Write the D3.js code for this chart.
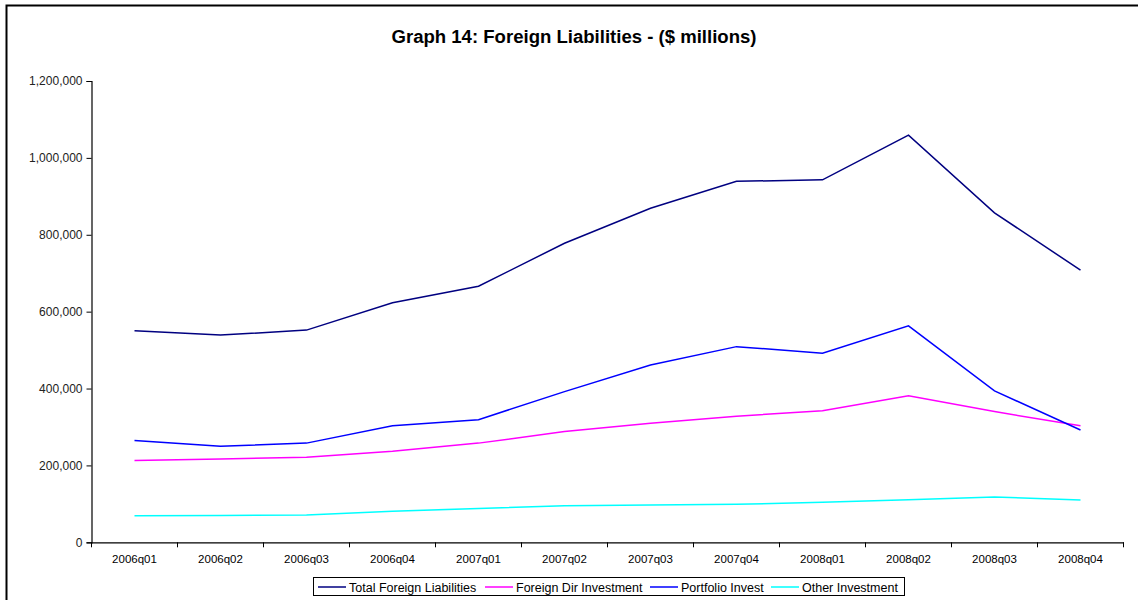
<!DOCTYPE html>
<html>
<head>
<meta charset="utf-8">
<script src="https://cdn.jsdelivr.net/npm/d3@7"></script>
<style>
  html, body { margin: 0; padding: 0; background: #fff; }
  svg { display: block; font-family: "Liberation Sans", Arial, sans-serif; }
</style>
</head>
<body>
<svg id="chart" width="1138" height="600"></svg>
<script>
// Quarterly foreign liabilities, $ millions
const quarters = ["2006q01","2006q02","2006q03","2006q04","2007q01","2007q02",
                  "2007q03","2007q04","2008q01","2008q02","2008q03","2008q04"];
const totalForeignLiabilities = [550000, 539000, 552000, 623000, 666000, 778000,
                                 869000, 939000, 943000, 1059000, 857000, 708000];
const foreignDirInvestment    = [213000, 217000, 221000, 237000, 258000, 288000,
                                 310000, 328000, 342000, 381000, 340000, 303000];
const portfolioInvest         = [265000, 250000, 258000, 303000, 319000, 392000,
                                 461000, 509000, 492000, 563000, 394000, 292000];
const otherInvestment         = [69000, 70000, 71000, 81000, 88000, 95000,
                                 97000, 99000, 104000, 111000, 118000, 110000];
const yTicks = [0, 200000, 400000, 600000, 800000, 1000000, 1200000];

const seriesNames  = ["Total Foreign Liabilities", "Foreign Dir Investment", "Portfolio Invest", "Other Investment"];
const seriesValues = [totalForeignLiabilities, foreignDirInvestment, portfolioInvest, otherInvestment];
const seriesColors = ["#000080", "#ff00ff", "#0000ff", "#00ffff"];

const svg = d3.select("#chart");

// outer chart frame
svg.append("rect")
  .attr("x", 6.5).attr("y", 5.5)
  .attr("width", 1200).attr("height", 700)
  .attr("fill", "none").attr("stroke", "#000").attr("stroke-width", 2);

const plot = { left: 91.5, right: 1123.5, top: 81, bottom: 542.3 };

const x = d3.scaleBand().domain(quarters).range([plot.left, plot.right]);
const y = d3.scaleLinear().domain([0, 1200000]).range([plot.bottom, plot.top]);

// title
svg.append("text")
  .attr("x", 574).attr("y", 43)
  .attr("text-anchor", "middle")
  .attr("font-size", 17.5).attr("font-weight", "bold")
  .attr("textLength", 365).attr("lengthAdjust", "spacingAndGlyphs")
  .text("Graph 14: Foreign Liabilities - ($ millions)");

// y axis
const yAxis = svg.append("g")
  .attr("transform", `translate(${plot.left},0)`)
  .call(d3.axisLeft(y).tickValues(yTicks).tickSize(5).tickPadding(4)
          .tickFormat(d3.format(",")));
yAxis.select(".domain").attr("stroke", "#000").attr("stroke-width", 1.2);
yAxis.selectAll(".tick line").attr("stroke", "#000");
yAxis.selectAll(".tick text").attr("font-size", 12).attr("font-family", "Liberation Sans, Arial, sans-serif").attr("fill", "#222");

// x axis with ticks on category boundaries
const xAxis = svg.append("g")
  .attr("transform", `translate(0,${plot.bottom})`)
  .call(d3.axisBottom(x).tickSize(0).tickPadding(13));
xAxis.select(".domain").attr("stroke", "#000").attr("stroke-width", 1.2);
xAxis.selectAll(".tick text").attr("font-size", 11.5).attr("font-family", "Liberation Sans, Arial, sans-serif").attr("fill", "#000");
const boundaries = quarters.map(q => x(q)).concat([x(quarters[quarters.length - 1]) + x.bandwidth()]);
xAxis.selectAll("line.boundary")
  .data(boundaries)
  .enter().append("line")
  .attr("class", "boundary")
  .attr("x1", d => d).attr("x2", d => d)
  .attr("y1", 0).attr("y2", 5)
  .attr("stroke", "#000");

// series lines
const line = d3.line()
  .x((d, i) => x(quarters[i]) + x.bandwidth() / 2)
  .y(d => y(d));

seriesValues.forEach((vals, i) => {
  svg.append("path")
    .datum(vals)
    .attr("fill", "none")
    .attr("stroke", seriesColors[i])
    .attr("stroke-width", 1.5)
    .attr("d", line);
});

// legend
const legend = svg.append("g");
legend.append("rect")
  .attr("x", 313.5).attr("y", 577.5)
  .attr("width", 591).attr("height", 18)
  .attr("fill", "#fff").attr("stroke", "#000").attr("stroke-width", 1);
const legendX = [318, 485, 650, 771];
seriesNames.forEach((name, i) => {
  legend.append("line")
    .attr("x1", legendX[i]).attr("x2", legendX[i] + 28)
    .attr("y1", 587).attr("y2", 587)
    .attr("stroke", seriesColors[i]).attr("stroke-width", 1.5);
  legend.append("text")
    .attr("x", legendX[i] + 31).attr("y", 591.5)
    .attr("font-size", 12.5).attr("fill", "#000")
    .text(name);
});
</script>
</body>
</html>
